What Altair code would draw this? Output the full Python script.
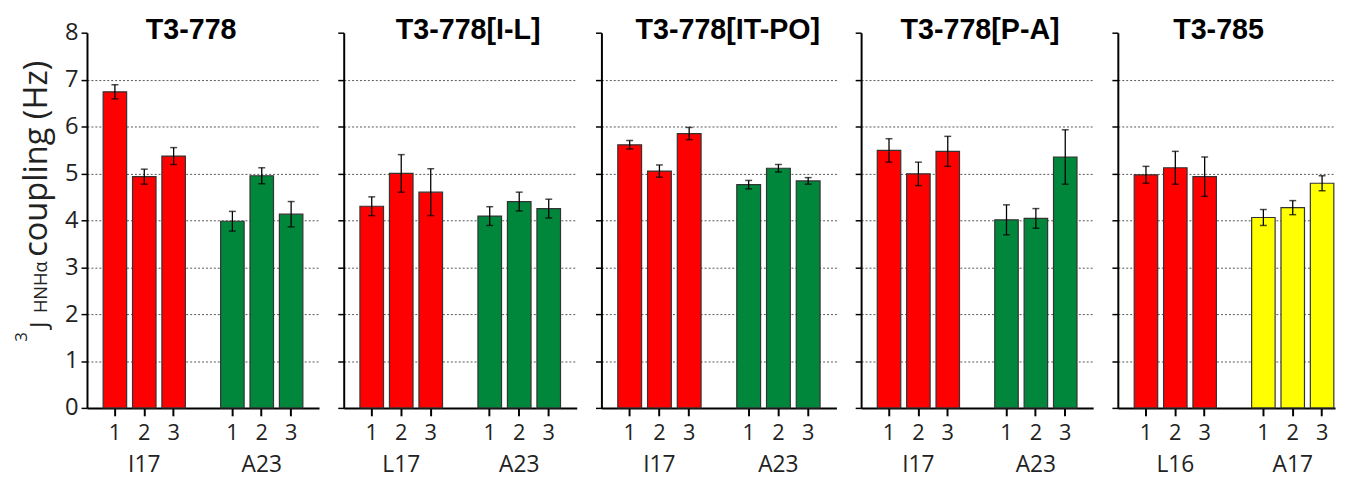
import altair as alt
import pandas as pd

# ---- data ----
titles = ["T3-778", "T3-778[I-L]", "T3-778[IT-PO]", "T3-778[P-A]", "T3-785"]
groups1 = ["I17", "L17", "I17", "I17", "L16"]
groups2 = ["A23", "A23", "A23", "A23", "A17"]
colors1 = ["#FF0000", "#FF0000", "#FF0000", "#FF0000", "#FF0000"]
colors2 = ["#00873C", "#00873C", "#00873C", "#00873C", "#FFFF00"]
reps = ["1", "2", "3"]
vals1 = [[6.74, 4.93, 5.37], [4.30, 5.00, 4.60], [5.61, 5.05, 5.85], [5.49, 4.99, 5.47], [4.97, 5.12, 4.93]]
errs1 = [[0.15, 0.16, 0.18], [0.20, 0.40, 0.50], [0.09, 0.13, 0.13], [0.25, 0.25, 0.32], [0.18, 0.35, 0.42]]
vals2 = [[3.98, 4.95, 4.13], [4.09, 4.40, 4.25], [4.76, 5.11, 4.84], [4.01, 4.04, 5.35], [4.06, 4.27, 4.79]]
errs2 = [[0.21, 0.17, 0.27], [0.20, 0.20, 0.20], [0.09, 0.08, 0.07], [0.32, 0.21, 0.58], [0.17, 0.15, 0.16]]
y_ticks = [k * 0.5 for k in range(17)]
ytitle_pieces = ["3", "J", "HNH\u03b1", "coupling (Hz)"]

# ---- layout / style ----
H = 380
FONT = "Open Sans"
title_dx = [-12, 8, 9, 3, -8]
panel_widths = [235, 236, 238, 235, 220]


def panel(i, width, first, align=0.5, pad_outer=0.55):
    rows = []
    for g, vals, errs, col in [
        (groups1[i], vals1[i], errs1[i], colors1[i]),
        (groups2[i], vals2[i], errs2[i], colors2[i]),
    ]:
        for r, v, e in zip(reps, vals, errs):
            rows.append(dict(slot=f"{g}|{r}", value=v, lo=v - e, hi=v + e, color=col))
    df = pd.DataFrame(rows)
    domain = [f"{groups1[i]}|{r}" for r in reps] + ["gap"] + [f"{groups2[i]}|{r}" for r in reps]

    xscale = alt.Scale(domain=domain, paddingInner=0.2, paddingOuter=pad_outer, align=align)
    xaxis = alt.Axis(
        title=None,
        labelExpr="indexof(datum.value, '|') >= 0 ? split(datum.value, '|')[1] : ''",
        labelAngle=0, labelFontSize=22, labelFont=FONT, labelColor="#222",
        labelPadding=7, tickSize=8, tickWidth=2, tickColor="black",
        tickOpacity={"condition": {"test": "datum.value == 'gap'", "value": 0}, "value": 1},
        domainColor="black", domainWidth=2, grid=False,
    )
    yscale = alt.Scale(domain=[0, 8], nice=False)
    yaxis = alt.Axis(
        values=y_ticks,
        labelExpr="datum.value % 1 == 0 ? format(datum.value, 'd') : ''",
        labels=first, title=None,
        grid=True, gridDash=[2, 2], gridColor="#555", gridWidth=1,
        gridOpacity={"condition": {"test": "datum.value % 1 == 0 && datum.value > 0 && datum.value < 8", "value": 1}, "value": 0},
        tickSize={"condition": {"test": "datum.value % 1 == 0", "value": 6}, "value": 4},
        tickWidth=1.5, tickColor="black",
        domainColor="black", domainWidth=2,
        labelFontSize=24, labelFont=FONT, labelColor="#222", labelPadding=3,
    )

    base = alt.Chart(df)
    bars = base.mark_bar(stroke="#333", strokeWidth=1.2).encode(
        x=alt.X("slot:N", scale=xscale, axis=xaxis, sort=domain),
        y=alt.Y("value:Q", scale=yscale, axis=yaxis),
        color=alt.Color("color:N", scale=None),
    )
    rule = base.mark_rule(color="black", strokeWidth=1.3).encode(
        x=alt.X("slot:N", sort=domain), y="lo:Q", y2="hi:Q"
    )
    cap_lo = base.mark_tick(color="black", size=7, thickness=1.5).encode(
        x=alt.X("slot:N", sort=domain), y="lo:Q"
    )
    cap_hi = base.mark_tick(color="black", size=7, thickness=1.5).encode(
        x=alt.X("slot:N", sort=domain), y="hi:Q"
    )
    gl = pd.DataFrame({"slot": [f"{groups1[i]}|2", f"{groups2[i]}|2"], "label": [groups1[i], groups2[i]]})
    glabels = alt.Chart(gl).mark_text(fontSize=23, font=FONT, color="#222", baseline="middle").encode(
        x=alt.X("slot:N", sort=domain), y=alt.value(H + 58), text="label:N"
    )
    ttl = alt.Chart(pd.DataFrame({"t": [titles[i]]})).mark_text(
        fontSize=29, font="Liberation Sans", fontWeight="bold", color="black",
        baseline="middle", align="center", dx=title_dx[i],
    ).encode(text="t:N", x=alt.value(width / 2), y=alt.value(-3))
    layers = [bars, rule, cap_lo, cap_hi, glabels, ttl]

    if first:
        specs = [
            (ytitle_pieces[0], 17, -61, 313),
            (ytitle_pieces[1], 24, -41, 299),
            (ytitle_pieces[2], 18.5, -41, 284),
            (ytitle_pieces[3], 33, -41, 227),
        ]
        for txt, fs, xv, yv in specs:
            layers.append(
                alt.Chart(pd.DataFrame({"t": [txt]})).mark_text(
                    angle=270, align="left", baseline="alphabetic", fontSize=fs, font=FONT, color="#222"
                ).encode(text="t:N", x=alt.value(xv), y=alt.value(yv))
            )

    return alt.layer(*layers).properties(width=width, height=H)


panels = [panel(0, panel_widths[0], True)] + [panel(k, panel_widths[k], False) for k in (1, 2, 3)] + [
    panel(4, panel_widths[4], False, align=0.93, pad_outer=0.3)
]

chart = (
    alt.hconcat(*panels, spacing=18)
    .configure_view(stroke=None)
    .properties(background="white", padding={"left": 5, "top": 5, "right": 5, "bottom": 0})
)

chart.save("out.html", embed_options={"renderer": "svg", "actions": False})
